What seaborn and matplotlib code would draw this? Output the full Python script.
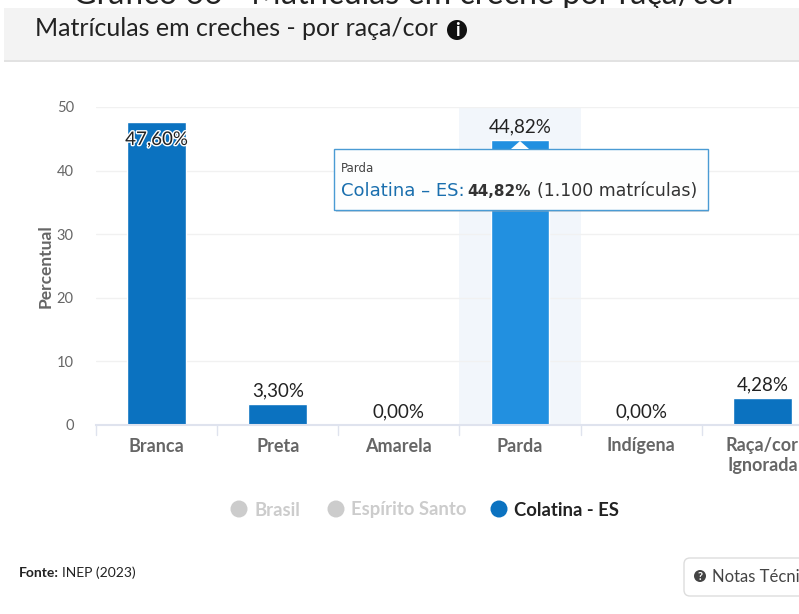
import matplotlib
matplotlib.use("Agg")
import matplotlib.pyplot as plt
from matplotlib.patches import Rectangle, FancyBboxPatch, Polygon, Circle
import matplotlib.patheffects as pe
import seaborn as sns
import pandas as pd

categories = ["Branca", "Preta", "Amarela", "Parda", "Indígena", "Raça/cor\nIgnorada"]
values = [47.60, 3.30, 0.00, 44.82, 0.00, 4.28]
labels = ["47,60%", "3,30%", "0,00%", "44,82%", "0,00%", "4,28%"]
y_ticks = [0, 10, 20, 30, 40, 50]
legend_items = ["Brasil", "Espírito Santo", "Colatina - ES"]
page_title = "Gráfico 66 - Matrículas em creche por raça/cor"
panel_title = "Matrículas em creches - por raça/cor"
source_bold = "Fonte:"
source_rest = "INEP (2023)"
tip_title = "Parda"
tip_series = "Colatina – ES:"
tip_value = "44,82%"
tip_rest = "(1.100 matrículas)"

W, H = 799, 614
sns.set_theme(style="white")
plt.rcParams["font.family"] = ["Lato", "DejaVu Sans"]
fig = plt.figure(figsize=(W / 100, H / 100), dpi=100, facecolor="white")

bg = fig.add_axes([0, 0, 1, 1], zorder=0)
bg.set_xlim(0, W); bg.set_ylim(H, 0); bg.axis("off")
bg.text(73, 4, page_title, fontsize=23.2, color="#222222", va="baseline", ha="left", zorder=1)
bg.add_patch(Rectangle((4, 8), W, 52, fc="#f3f3f3", ec="none", zorder=2))
bg.add_patch(Rectangle((4, 60), W, 1.5, fc="#e2e2e2", ec="none", zorder=2))

ax = fig.add_axes([96 / W, (H - 425) / H, 727 / W, 318 / H], zorder=1)
ax.patch.set_alpha(0)
df = pd.DataFrame({"cat": categories, "val": values})
palette = ["#0b72c0", "#0b72c0", "#0b72c0", "#2290e0", "#0b72c0", "#0b72c0"]
ax.axvspan(2.5, 3.5, color="#f2f6fb", lw=0, zorder=0)
sns.barplot(data=df, x="cat", y="val", hue="cat", palette=palette, legend=False,
            width=0.485, saturation=1, ax=ax, zorder=2)
ax.set_xlim(-0.5, 5.5)
ax.set_ylim(0, 50)
ax.set_yticks(y_ticks)
ax.set_xticks(range(6))
ax.set_xticklabels(categories, fontsize=13, fontweight="bold", color="#666666", linespacing=1.2)
ax.set_yticklabels([str(t) for t in y_ticks], fontsize=10.5, color="#666666")
ax.set_xlabel("")
ax.set_ylabel("Percentual", fontsize=12.5, fontweight="bold", color="#666666", labelpad=2)
ax.yaxis.grid(True, color="#f1f1f1", lw=1)
ax.set_axisbelow(True)
for s in ["top", "right", "left"]:
    ax.spines[s].set_visible(False)
ax.spines["bottom"].set_color("#dfe3ee")
ax.spines["bottom"].set_linewidth(1.5)
ax.tick_params(axis="x", length=0, pad=9)
ax.tick_params(axis="y", length=11, width=1, color="#e8e8e8", pad=5)
for b in [-0.5, 0.5, 1.5, 2.5, 3.5, 4.5]:
    ax.plot([b, b], [0, -1.6], color="#dfe3ee", lw=1, clip_on=False, zorder=1)

for i, (v, lab) in enumerate(zip(values, labels)):
    if i == 0:
        ax.text(i, v - 2.7, lab, ha="center", va="center", fontsize=13.5, color="#222222", zorder=4,
                path_effects=[pe.withStroke(linewidth=2, foreground="white")])
    else:
        ax.text(i, v + 0.75, lab, ha="center", va="bottom", fontsize=13.5, color="#222222", zorder=4)

fg = fig.add_axes([0, 0, 1, 1], zorder=3)
fg.set_xlim(0, W); fg.set_ylim(H, 0); fg.axis("off")
fg.text(35, 29, panel_title, fontsize=18, color="#222222", va="center", ha="left")
fg.add_patch(Circle((457, 30), 10, fc="#111111", ec="none"))
fg.text(457, 30, "i", fontsize=13, fontweight="bold", color="white", ha="center", va="center")

fg.add_patch(Rectangle((336, 151), 373, 61, fc="#9aa8b4", ec="none", alpha=0.45))
fg.add_patch(Rectangle((333.5, 148.5), 374, 61, fc="#fdfefe", ec="#4a9bd4", lw=1))
fg.add_patch(Polygon([[511, 149], [520, 141], [529, 149]], fc="#fdfefe", ec="none"))
fg.text(341, 169, tip_title, fontsize=8.5, family="DejaVu Sans", color="#444444", va="center")
fg.text(341, 191, tip_series, fontsize=13, family="DejaVu Sans", color="#1a6fae", va="center")
fg.text(467, 191, tip_value, fontsize=11, family="DejaVu Sans", fontweight="bold", color="#333333", va="center")
fg.text(537, 191, tip_rest, fontsize=12.5, family="DejaVu Sans", color="#333333", va="center")

lx = [239, 336, 499]
tx = [255, 351, 514]
cols = ["#cccccc", "#cccccc", "#0b72c0"]
tcols = ["#cccccc", "#cccccc", "#222222"]
for cx, t, name, c, tc in zip(lx, tx, legend_items, cols, tcols):
    fg.add_patch(Circle((cx, 509), 8.5, fc=c, ec="none"))
    fg.text(t, 510, name, fontsize=13.3, fontweight="bold", color=tc, va="center")

fg.text(19, 573, source_bold, fontsize=10, fontweight="bold", color="#222222", va="center")
fg.text(62, 573, source_rest, fontsize=10, color="#222222", va="center")
fg.add_patch(FancyBboxPatch((684, 558), 140, 38, boxstyle="round,pad=0,rounding_size=6", fc="white", ec="#dddddd", lw=1))
fg.add_patch(Circle((700, 576), 6, fc="#444444", ec="none"))
fg.text(700, 576, "?", fontsize=8, fontweight="bold", color="white", ha="center", va="center")
fg.text(712, 577, "Notas Técni", fontsize=12, color="#444444", va="center")

fig.savefig("out.png", dpi=100)
